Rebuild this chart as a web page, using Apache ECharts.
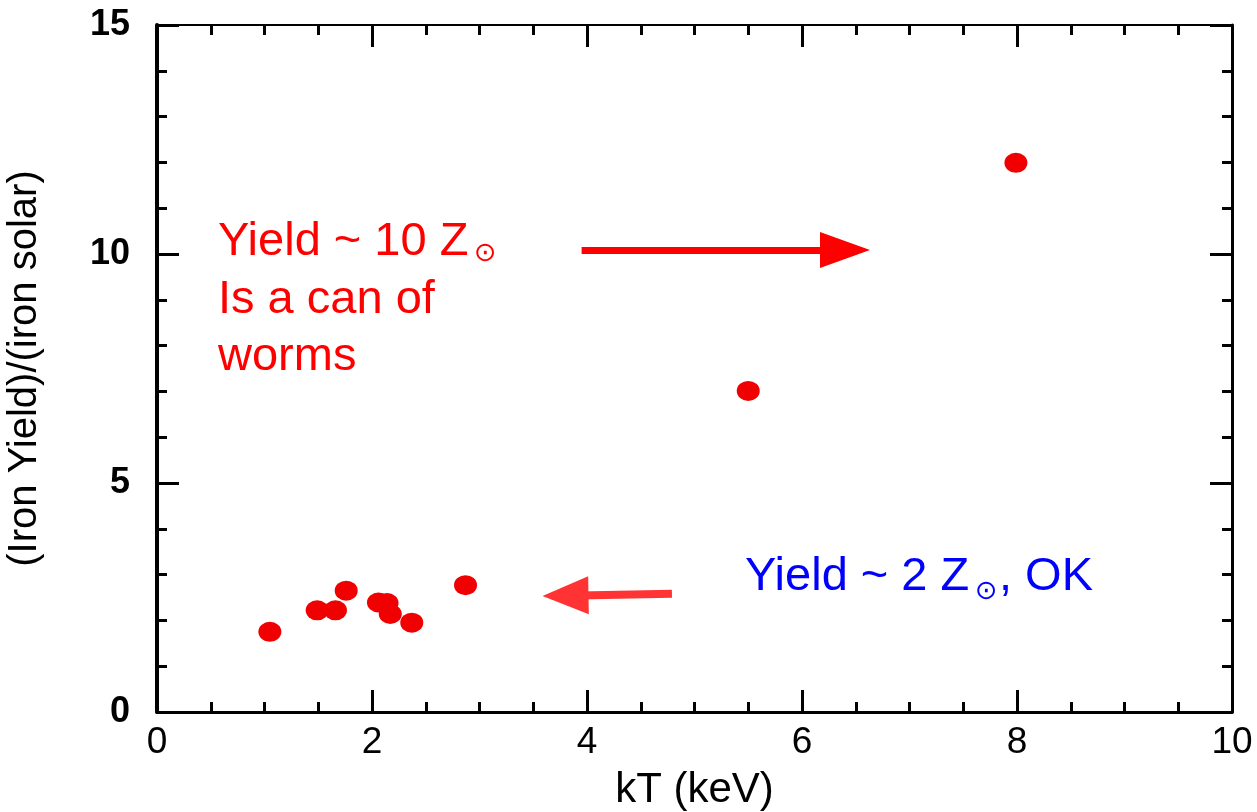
<!DOCTYPE html>
<head>
    <meta charset="utf-8"/>
    <style>
        html,body { height:100%; width:100%; margin:0; padding:0; background:#fff; }
    </style>
</head>
<body>
<div id="main" style="width:1257px;height:812px"></div>
<script src="https://cdn.jsdelivr.net/npm/echarts@6/dist/echarts.min.js"></script>
<script type="text/javascript">
 // data
 var kT    = [1.05, 1.49, 1.66, 1.76, 2.06, 2.14, 2.17, 2.37, 2.87, 5.50, 7.99];
 var ratio = [1.75, 2.22, 2.22, 2.65, 2.39, 2.38, 2.14, 1.95, 2.77, 7.01, 11.99];
 var xTicks = [0, 2, 4, 6, 8, 10];
 var yTicks = [0, 5, 10, 15];
 // arrows, in data units: [fromX, fromY, toX, toY]
 var arrowBig   = [3.95, 10.09, 6.40, 10.09];
 var arrowSmall = [4.79, 2.58, 3.80, 2.54];

 var points = kT.map(function (v, i) { return [v, ratio[i]]; });
 var FONT = '"Liberation Sans", Arial, sans-serif';

 function xAx(pos, main) {
    return {
        type: 'value', position: pos, min: xTicks[0], max: xTicks[xTicks.length - 1], interval: 2,
        name: main ? 'kT (keV)' : '', nameLocation: 'middle', nameGap: 57,
        nameTextStyle: { fontFamily: FONT, fontSize: 42, color: '#000' },
        axisLine: { show: true, onZero: false, lineStyle: { color: '#000', width: main ? 3 : 2 } },
        axisTick: { show: true, inside: true, length: 22, lineStyle: { color: '#000', width: 3 } },
        minorTick: { show: true, splitNumber: 4, length: 10, lineStyle: { color: '#000', width: 3 } },
        axisLabel: { show: main, margin: 12, fontFamily: FONT, fontSize: 37, color: '#000' },
        splitLine: { show: false }
    };
 }
 function yAx(pos, main) {
    return {
        type: 'value', position: pos, min: yTicks[0], max: yTicks[yTicks.length - 1], interval: 5,
        name: main ? '(Iron Yield)/(iron solar)' : '', nameLocation: 'middle', nameGap: 112,
        nameTextStyle: { fontFamily: FONT, fontSize: 40, color: '#000' },
        axisLine: { show: true, onZero: false, lineStyle: { color: '#000', width: main ? 4 : 3 } },
        axisTick: { show: true, inside: true, length: 22, lineStyle: { color: '#000', width: 3 } },
        minorTick: { show: true, splitNumber: 5, length: 10, lineStyle: { color: '#000', width: 3 } },
        axisLabel: { show: main, margin: 27, fontFamily: FONT, fontSize: 36, fontWeight: 'bold', color: '#000' },
        splitLine: { show: false }
    };
 }

 function txt(s, x, y, color, size, family) {
    return { type: 'text', style: { text: s, x: x, y: y, fill: color, font: size + 'px ' + (family || FONT),
             align: 'left', verticalAlign: 'middle' } };
 }

 var chart = echarts.init(document.getElementById('main'));
 var option = {
    animation: false,
    backgroundColor: '#fff',
    grid: { left: 157, right: 25, top: 25, bottom: 100, containLabel: false, outerBoundsMode: 'none' },
    xAxis: [xAx('bottom', true), xAx('top', false)],
    yAxis: [yAx('left', true), yAx('right', false)],
    series: [
        {
            type: 'scatter',
            data: points,
            symbol: 'circle',
            symbolSize: [23, 20],
            itemStyle: { color: '#f00000', opacity: 1 },
            markLine: {
                silent: true,
                symbol: ['none', 'triangle'],
                label: { show: false },
                data: [
                    [
                        { coord: [arrowBig[0], arrowBig[1]], symbol: 'none' },
                        { coord: [arrowBig[2], arrowBig[3]], symbol: 'triangle', symbolSize: [36, 50],
                          lineStyle: { color: '#f00', width: 7, type: 'solid' }, itemStyle: { color: '#f00' } }
                    ],
                    [
                        { coord: [arrowSmall[0], arrowSmall[1]], symbol: 'none' },
                        { coord: [arrowSmall[2], arrowSmall[3]], symbol: 'triangle', symbolSize: [38, 46],
                          lineStyle: { color: '#ff3333', width: 8, type: 'solid' }, itemStyle: { color: '#ff3333' } }
                    ]
                ],
                lineStyle: { color: '#f00', width: 7, type: 'solid' }
            }
        }
    ],
    graphic: [
        txt('Yield ~ 10 Z', 218, 242, '#f00', 47),
        txt('\u2299', 474, 254, '#f00', 27, '"DejaVu Sans", sans-serif'),
        txt('Is a can of', 218, 300, '#f00', 47),
        txt('worms', 218, 357, '#f00', 47),
        txt('Yield ~ 2 Z', 745, 577, '#0000ff', 47),
        txt('\u2299', 975, 592, '#0000ff', 27, '"DejaVu Sans", sans-serif'),
        txt(', OK', 999, 577, '#0000ff', 47)
    ]
 };
 chart.setOption(option);
</script>
</body>
